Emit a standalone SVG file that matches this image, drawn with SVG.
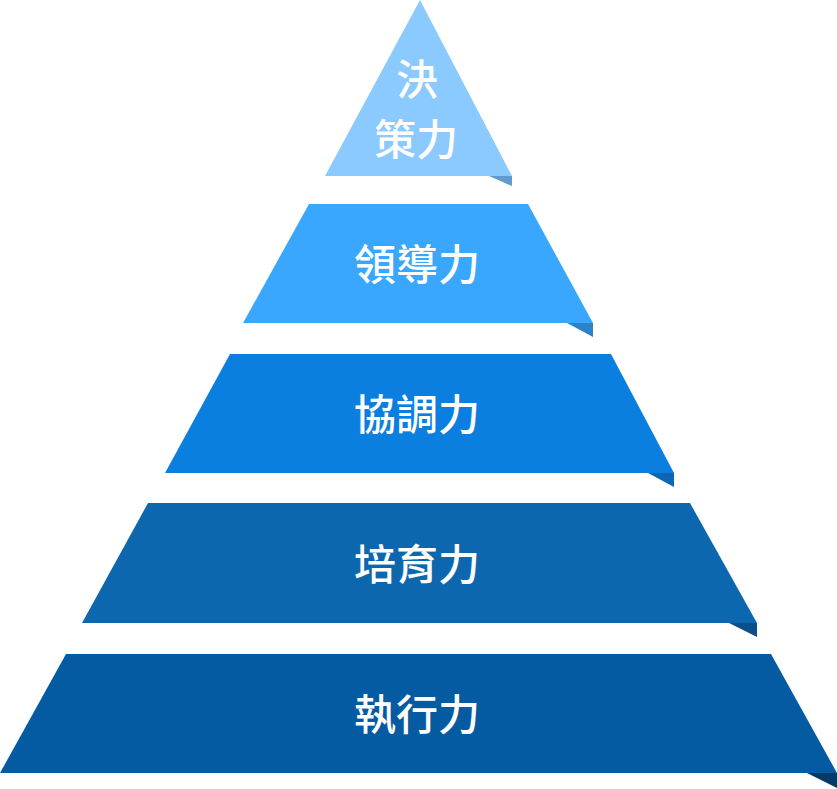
<svg xmlns="http://www.w3.org/2000/svg" width="837" height="789" viewBox="0 0 837 789">
<style>
.t{font-family:"Noto Sans CJK TC","Noto Sans CJK SC",sans-serif;font-size:42px;font-weight:500;fill:#ffffff;text-anchor:middle;dominant-baseline:central}
</style>
<rect width="837" height="789" fill="#ffffff"/>
<g id="level1">
<polygon points="420,0 512,176 325,176" fill="#8ACAFE"/>
<polygon points="489,176 512,176 512,186" fill="#5F9BCC"/>
<text class="t" x="417" y="76">決</text>
<text class="t" x="416" y="136">策力</text>
</g>
<g id="level2">
<polygon points="309,204 528,204 593,323 243,323" fill="#3AA7FF"/>
<polygon points="567,323 593,323 593,337" fill="#2E83C7"/>
<text class="t" x="417" y="261">領導力</text>
</g>
<g id="level3">
<polygon points="230,354 611,354 674,473 165,473" fill="#0B7FE0"/>
<polygon points="648,473 674,473 674,487" fill="#0E65B1"/>
<text class="t" x="417" y="411">協調力</text>
</g>
<g id="level4">
<polygon points="148,503 690,503 757,623 82,623" fill="#0D67AF"/>
<polygon points="729,623 757,623 757,637" fill="#0A4F87"/>
<text class="t" x="417" y="561">培育力</text>
</g>
<g id="level5">
<polygon points="66,654 771,654 837,773 0,773" fill="#045BA1"/>
<polygon points="807,773 837,773 837,788" fill="#033A66"/>
<text class="t" x="417" y="711">執行力</text>
</g>
<g id="connectors"></g>
</svg>
